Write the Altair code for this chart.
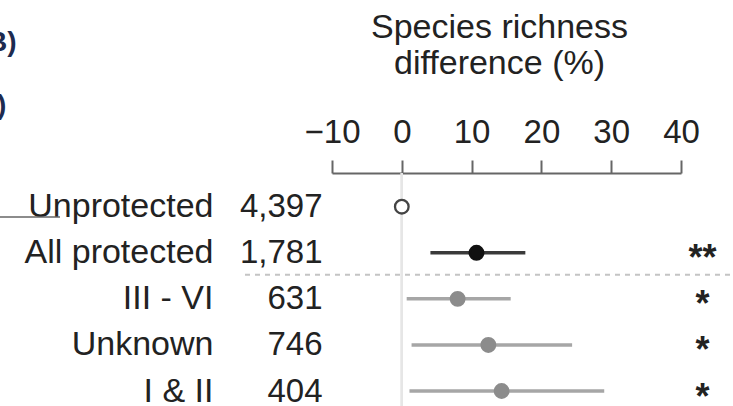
import json
import altair as alt
import pandas as pd

# ---- data ----
names = ["Unprotected", "All protected", "III - VI", "Unknown", "I & II"]
counts = [4397, 1781, 631, 746, 404]
means = [0.0, 10.7, 8.0, 12.4, 14.3]
ci_low = [None, 4.1, 0.7, 1.4, 1.1]
ci_high = [None, 17.7, 15.6, 24.4, 29.0]
stars = ["", "**", "*", "*", "*"]
x_ticks = [-10, 0, 10, 20, 30, 40]
title_lines = ["Species richness", "difference (%)"]
fragment_texts = ["B)", ")"]

count_labels = [f"{c:,}" for c in counts]

df = pd.DataFrame({
    "name": names,
    "n": count_labels,
    "mean": means,
    "lo": ci_low,
    "hi": ci_high,
})

FS = 33
TXT = "#222222"
ROW_RANGE = [33.7, 218]

xscale = alt.Scale(domain=[-10, 40], nice=False, zero=False)
xaxis = alt.Axis(
    orient="top", values=x_ticks, grid=False, labelFlush=False,
    tickSize=13, tickWidth=2, tickColor="#666666",
    domainColor="#666666", domainWidth=2,
    labelFontSize=FS, labelColor=TXT, labelPadding=11,
    title=title_lines, titleFontSize=34, titleFontWeight="normal",
    titleColor=TXT, titleX=167, titleY=-136, titleBaseline="alphabetic",
    titleLineHeight=36, titleAnchor="middle", titleAlign="center",
)


def yscale(domain):
    return alt.Scale(type="point", domain=domain, range=ROW_RANGE, padding=0)


base = alt.Chart(df)

zero_line = base.mark_rule(color="#e6e6e6", strokeWidth=2).encode(
    x=alt.datum(0, type="quantitative", scale=xscale)
)

ci = base.transform_filter("isValid(datum.lo)").mark_rule(strokeWidth=3.5).encode(
    x=alt.X("lo:Q", scale=xscale, axis=xaxis),
    x2="hi:Q",
    y=alt.Y("name:N", sort=names, scale=yscale(names),
            axis=alt.Axis(orient="left", title=None, ticks=False, domain=False,
                          labelFontSize=34, labelColor=TXT, labelPadding=119,
                          labelLimit=500)),
    color=alt.Color("name:N", scale=alt.Scale(
        domain=names, range=["#444444", "#3a3a3a", "#a6a6a6", "#a6a6a6", "#a6a6a6"]),
        legend=None),
)

pts = base.mark_circle(size=185, strokeWidth=2.3, opacity=1).encode(
    x=alt.X("mean:Q", scale=xscale),
    y=alt.Y("n:N", sort=count_labels, scale=yscale(count_labels),
            axis=alt.Axis(orient="left", title=None, ticks=False, domain=False,
                          labelFontSize=FS, labelColor=TXT, labelPadding=10,
                          labelLimit=500)),
    fill=alt.Fill("name:N", scale=alt.Scale(
        domain=names, range=["#ffffff", "#111111", "#8c8c8c", "#8c8c8c", "#8c8c8c"]),
        legend=None),
    stroke=alt.Stroke("name:N", scale=alt.Scale(
        domain=names, range=["#444444", "#111111", "#8c8c8c", "#8c8c8c", "#8c8c8c"]),
        legend=None),
)

star_expr = f"{json.dumps(stars)}[indexof({json.dumps(names)}, datum.value)]"
sep = alt.Chart(pd.DataFrame({"sep": [names[1]]})).mark_rule(
    strokeDash=[5, 5], color="#c4c4c4", strokeWidth=2, yOffset=22
).encode(
    y=alt.Y("sep:N", scale=yscale(names),
            axis=alt.Axis(orient="right", title=None, ticks=False, domain=False,
                          labelExpr=star_expr, labelFontSize=36, labelFontWeight="bold",
                          labelColor=TXT, labelAlign="center", labelPadding=21,
                          labelOffset=6)),
    x=alt.value(245 - 332),
    x2=alt.value(733 - 332),
)

frag1 = alt.Chart(pd.DataFrame({"t": [fragment_texts[0]]})).mark_text(
    fontSize=28, fontWeight="bold", color="#1d2b50", align="left", baseline="alphabetic"
).encode(text="t:N", x=alt.value(-13 - 332), y=alt.value(51 - 173))
frag2 = alt.Chart(pd.DataFrame({"t": [fragment_texts[1]]})).mark_text(
    fontSize=28, fontWeight="bold", color="#1d2b50", align="left", baseline="alphabetic"
).encode(text="t:N", x=alt.value(-3 - 332), y=alt.value(114 - 173))
frag_line = alt.Chart(pd.DataFrame({"a": [0]})).mark_rule(
    color="#666666", strokeWidth=1.5
).encode(x=alt.value(-332), x2=alt.value(60 - 332), y=alt.value(217 - 173))

chart = alt.layer(zero_line, ci, pts, sep, frag1, frag2, frag_line).resolve_scale(
    y="independent"
).properties(
    width=349, height=233,
    padding={"left": 332, "top": 173, "right": 52, "bottom": 0},
    autosize=alt.AutoSizeParams(type="none"),
).configure(font="Liberation Sans").configure_view(stroke=None)

chart.save("out.html", embed_options={"renderer": "svg", "actions": False})
